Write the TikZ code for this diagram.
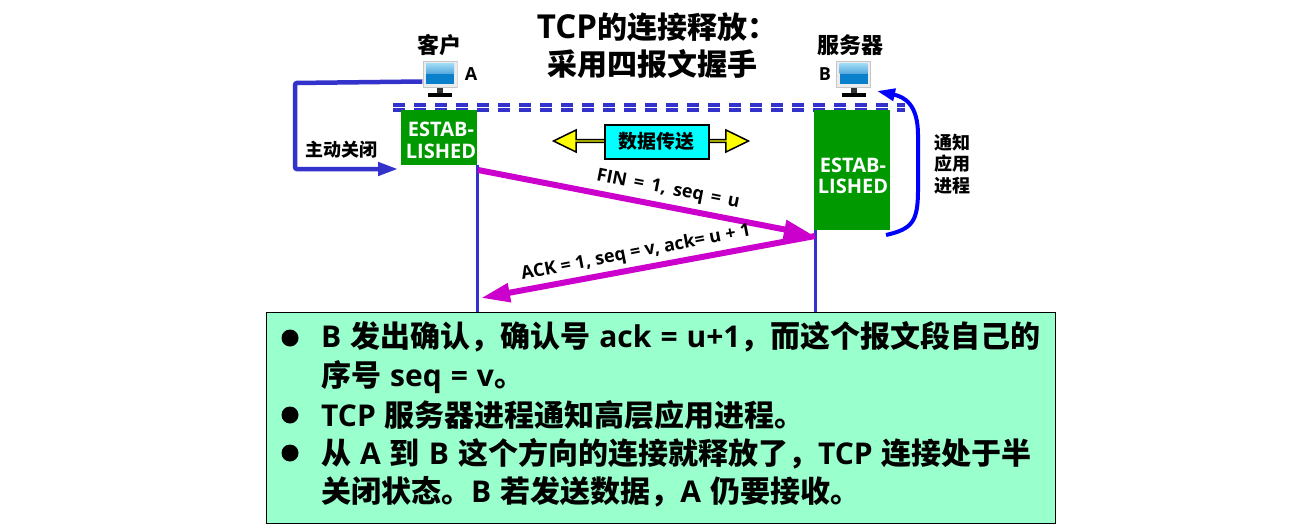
\documentclass[tikz,border=0pt]{standalone}
\usepackage{fontspec}
\usepackage{xcolor}
\setmainfont{Noto Sans CJK SC}
\newfontfamily\latn{Open Sans}
\newcommand{\la}[1]{{\latn #1}}
\newcommand{\wide}{\spaceskip=9pt\relax}
\usetikzlibrary{arrows.meta}
\usetikzlibrary{shapes.arrows}
\definecolor{linkblue}{HTML}{3333CC}
\definecolor{msgpurple}{HTML}{CC00CC}
\definecolor{estabgreen}{HTML}{009900}
\definecolor{notegreen}{HTML}{99FFCC}
\definecolor{screenblue}{HTML}{0A80CC}
\definecolor{screenlight}{HTML}{9AD8F5}
\definecolor{datacyan}{HTML}{00FFFF}
\definecolor{datayellow}{HTML}{FFFF00}
\definecolor{notifyblue}{HTML}{0000FF}
\begin{document}
\begin{tikzpicture}[
  x=1pt, y=-1pt,
  estab/.style={
    rectangle,
    fill=estabgreen,
    minimum width=76pt,
    inner sep=0pt
  },
  estabtxt/.style={font=\fontsize{20}{21.5}\selectfont\bfseries\latn, white, align=center, inner sep=0pt},
  head/.style={font=\fontsize{22}{26}\selectfont\bfseries, inner sep=0pt},
  side/.style={font=\fontsize{18}{21.5}\selectfont\bfseries, align=center, inner sep=0pt},
  title/.style={font=\fontsize{30}{37}\selectfont\bfseries, inner sep=0pt},
  msg/.style={font=\fontsize{18}{21}\selectfont\bfseries\latn, inner sep=0pt},
  bodytxt/.style={font=\fontsize{30}{38.5}\selectfont\bfseries, anchor=west, align=left, inner sep=0pt},
  dot/.style={circle, fill=black, minimum size=17pt, inner sep=0pt},
  life/.style={linkblue, line width=3pt},
  sync/.style={linkblue, line width=3.2pt, dash pattern=on 12pt off 9pt},
  close/.style={linkblue, line width=4.5pt, rounded corners=2pt, -{Triangle[length=20pt,width=13pt]}},
  fin/.style={msgpurple, line width=6pt, -{Triangle[length=29pt,width=18pt]}},
  monitor/.style={
    minimum width=35pt,
    minimum height=36pt,
    inner sep=0pt,
    path picture={
      \fill[gray!45] (path picture bounding box.north west) rectangle ([yshift=9pt]path picture bounding box.south east);
      \fill[gray!15] ([xshift=1pt,yshift=-1pt]path picture bounding box.north west) rectangle ([xshift=-1pt,yshift=10pt]path picture bounding box.south east);
      \fill[screenblue] ([xshift=3.5pt,yshift=-3pt]path picture bounding box.north west) rectangle ([xshift=-3.5pt,yshift=13pt]path picture bounding box.south east);
      \shade[top color=screenlight, bottom color=screenblue!70] ([xshift=3.5pt,yshift=-3pt]path picture bounding box.north west) rectangle ([xshift=-3.5pt,yshift=23pt]path picture bounding box.south east);
      \fill[black!80] ([xshift=-3pt,yshift=9pt]path picture bounding box.south) rectangle ([xshift=3pt,yshift=3pt]path picture bounding box.south);
      \fill[black] ([xshift=-12pt]path picture bounding box.south) rectangle ([xshift=12pt,yshift=4pt]path picture bounding box.south);
    }
  }
]

% Title
\node[title] (titleA) at (657,27) {{\fontsize{33}{37}\selectfont\la{TCP}}的连接释放：};
\node[title] (titleB) at (652,64) {采用四报文握手};

% Hosts
\node[monitor] (pcA) at (440,79) {};
\node[monitor] (pcB) at (853.5,79) {};
\node[head] (nameA) at (439,45) {客户};
\node[head] (nameB) at (850,45) {服务器};
\node[msg] (letterA) at (471,74) {A};
\node[msg] (letterB) at (825,74) {B};

% Dashed lines
\coordinate (syncAa) at (393,105);
\coordinate (syncAb) at (905,105);
\coordinate (syncBa) at (393,110);
\coordinate (syncBb) at (905,110);
\draw[sync] (syncAa) -- (syncAb);
\draw[sync] (syncBa) -- (syncBb);

% Boxes
\node[estab, minimum height=55pt] (estabA) at (439,137.5) {};
\node[estab, minimum height=120pt] (estabB) at (852,170) {};
\node[estabtxt] (textA) at (441,140.5) {ESTAB-\\LISHED};
\node[estabtxt] (textB) at (853,176) {ESTAB-\\LISHED};

% Data transfer
\node[
  double arrow, draw=black, line width=1.5pt, fill=datayellow,
  minimum width=22pt, double arrow head extend=5.5pt,
  minimum height=195pt, inner sep=0pt, double arrow tip angle=52
] (dataarrow) at (651,141) {};
\node[draw=black, line width=2pt, fill=datacyan, minimum width=104pt, minimum height=34pt,
  inner sep=0pt, font=\fontsize{19}{22}\selectfont\bfseries] (datatxt) at (656.5,141.5) {数据传送};

% Note box
\node[draw=black, line width=1pt, fill=notegreen, minimum width=789pt, minimum height=211pt, inner sep=0pt] (note) at (660.5,417.5) {};

% Lifelines
\draw[life] (estabA.south east) -- (estabA.south east |- note.north);
\draw[life] ([xshift=1.5pt]estabB.south west) -- ([xshift=1.5pt]estabB.south west |- note.north);

% Active close
\coordinate (closeend) at (398,169);
\draw[close] ([yshift=-2.5pt]pcA.west) -- (295,83) -- (295,169) -- (closeend);
\node[side] (closetxt) at (341,150) {主动关闭};

% Messages
\coordinate (finA) at (478,170);
\coordinate (finB) at (813,235);
\coordinate (ackB) at (815,236);
\coordinate (ackA) at (481,298);
\draw[fin] (finA) -- (finB);
\draw[fin] (ackB) -- (ackA);
\node[msg, rotate=-11] (fintxt) at (668,190) {\spaceskip=7.2pt FIN = 1, seq = u};
\node[msg, rotate=11] (acktxt) at (636,253) {ACK = 1, seq = v, ack= u + 1};

% Notify
\coordinate (notifystart) at (886,235);
\draw[notifyblue, line width=4pt, -{Triangle[length=18pt,width=12pt]}] (notifystart)
  .. controls (912,229) and (918,222) .. (918,190)
  -- (918,135) .. controls (918,105) and (905,97) .. (877,91);
\node[side] (notifytxt) at (952,164) {通知\\应用\\进程};

% Bullets
\node[dot] (dotA) at (290,338) {};
\node[dot] (dotB) at (290,415) {};
\node[dot] (dotC) at (290,453) {};
\node[bodytxt] (bodyA) at (321,357.5) {\wide\la{B} 发出确认，确认号 \la{ack = u+1}，而这个报文段自己的\\\wide 序号 \la{seq = v}。};
\node[bodytxt] (bodyB) at (321,415) {\wide\la{TCP} 服务器进程通知高层应用进程。};
\node[bodytxt] (bodyC) at (321,472.5) {\wide 从 \la{A} 到 \la{B} 这个方向的连接就释放了，\la{TCP} 连接处于半\\\wide 关闭状态。\la{B} 若发送数据，\la{A} 仍要接收。};

\useasboundingbox (0,0) rectangle (1305,532);
\end{tikzpicture}
\end{document}
